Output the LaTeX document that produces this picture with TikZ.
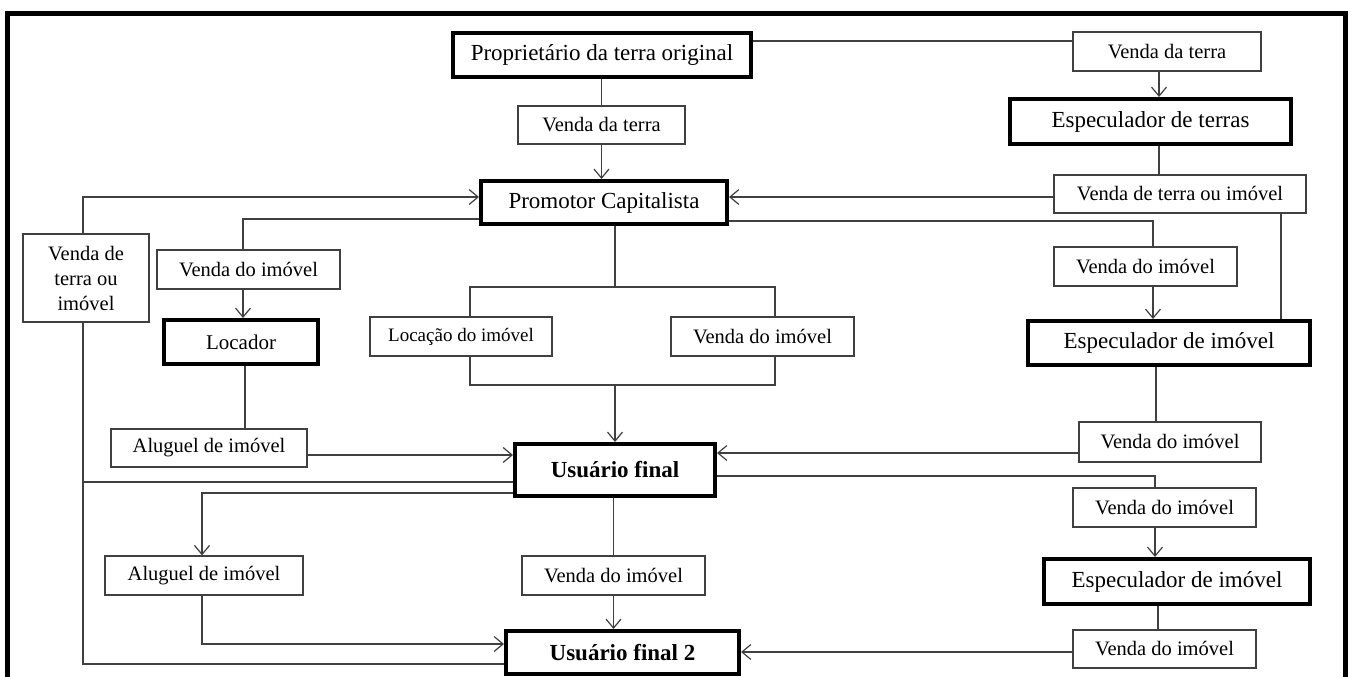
\documentclass[tikz,border=0pt]{standalone}
\usepackage{fontspec}
\setmainfont{Liberation Serif}
\usetikzlibrary{arrows.meta}
\tikzset{
  thin box/.style={draw=black!75, line width=1.3pt, fill=white, inner sep=0pt, align=center,
    font=\fontsize{20.5}{25}\selectfont},
  thick box/.style={draw=black, line width=4pt, fill=white, inner sep=0pt, align=center,
    font=\fontsize{23}{27}\selectfont},
  conn/.style={draw=black!75, line width=1.2pt},
  arr/.style={conn, -{Straight Barb[length=9pt,width=15pt,line width=1.2pt]}},
}
\begin{document}
\begin{tikzpicture}[x=1pt,y=-1pt]
\useasboundingbox (0,0) rectangle (1354,677);
\fill[white] (0,0) rectangle (1354,677);
% frame
\draw[line width=5pt] (7.5,680) -- (7.5,14) -- (1345,14) -- (1345,680);

% nodes
\node[thick box, minimum width=298, minimum height=44] (prop) at (602,55) {Proprietário da terra original};
\node[thin box, minimum width=167, minimum height=38] (vt1) at (601.5,125) {Venda da terra};
\node[thick box, minimum width=246, minimum height=43] (prom) at (604,202.5) {Promotor Capitalista};
\node[thin box, minimum width=188, minimum height=39] (vt2) at (1167,51.5) {Venda da terra};
\node[thick box, minimum width=281, minimum height=45] (espt) at (1150.5,121.5) {Especulador de terras};
\node[thin box, minimum width=252, minimum height=38] (vtoi) at (1180,194) {Venda de terra ou imóvel};
\node[thin box, minimum width=126, minimum height=88] (vtoiL) at (86,278) {Venda de\\terra ou\\imóvel};
\node[thin box, minimum width=183, minimum height=39] (vdiL) at (248.5,269.5) {Venda do imóvel};
\node[thick box, minimum width=154, minimum height=44, font=\fontsize{21}{25}\selectfont] (loc) at (241,342) {Locador};
\node[thin box, minimum width=182, minimum height=39, font=\fontsize{19}{23}\selectfont] (loci) at (461,336.5) {Locação do imóvel};
\node[thin box, minimum width=183, minimum height=39] (vdiM) at (762.5,336.5) {Venda do imóvel};
\node[thick box, minimum width=200, minimum height=52, font=\fontsize{23}{27}\selectfont\bfseries] (uf1) at (615,470) {Usuário final};
\node[thin box, minimum width=196, minimum height=38] (alu1) at (209,448) {Aluguel de imóvel};
\node[thick box, minimum width=282, minimum height=44] (espi1) at (1169,343) {Especulador de imóvel};
\node[thin box, minimum width=183, minimum height=39] (vdiR1) at (1145.5,266.5) {Venda do imóvel};
\node[thin box, minimum width=182, minimum height=40] (vdiR2) at (1170,442) {Venda do imóvel};
\node[thin box, minimum width=183, minimum height=39] (vdiR3) at (1164.5,507.5) {Venda do imóvel};
\node[thick box, minimum width=266, minimum height=45] (espi2) at (1177,581.5) {Especulador de imóvel};
\node[thin box, minimum width=183, minimum height=38] (vdiR4) at (1164.5,649) {Venda do imóvel};
\node[thick box, minimum width=233, minimum height=43, font=\fontsize{23}{27}\selectfont\bfseries] (uf2) at (622.5,652.5) {Usuário final 2};
\node[thin box, minimum width=183, minimum height=39] (vdiM2) at (613.5,575.5) {Venda do imóvel};
\node[thin box, minimum width=198, minimum height=39] (alu2) at (204,575.5) {Aluguel de imóvel};

% helper coordinates
\coordinate (brT) at (615,287);
\coordinate (brB) at (615,385);
\coordinate (cR1) at (1153,221);
\coordinate (cR3) at (1155,476);
\coordinate (cL1) at (243,219);
\coordinate (cLtop) at (83,197);
\coordinate (cLmid) at (83,482);
\coordinate (cLbot) at (83,664);
\coordinate (cA2) at (202,493);
\coordinate (cA2b) at (202,644);

% top
\draw[conn] (prop.south -| vt1.north) -- (vt1.north);
\draw[arr] (vt1.south) -- (vt1.south |- prom.north);
\draw[conn] (prop.east |- 0,41) -- (vt2.west |- 0,41);
\draw[arr] (vt2.south -| 1159,0) -- (espt.north -| 1159,0);
\draw[conn] (espt.south -| 1159,0) -- (vtoi.north -| 1159,0);
\draw[arr] (vtoi.west |- 0,197) -- (prom.east |- 0,197);
\draw[conn] (vtoi.south -| 1281,0) -- (espi1.north -| 1281,0);
% right branch
\draw[conn] (prom.east |- cR1) -- (cR1) -- (vdiR1.north -| cR1);
\draw[arr] (vdiR1.south -| cR1) -- (espi1.north -| cR1);
\draw[conn] (espi1.south -| 1156,0) -- (vdiR2.north -| 1156,0);
\draw[arr] (vdiR2.west |- 0,453) -- (uf1.east |- 0,453);
\draw[conn] (uf1.east |- cR3) -- (cR3) -- (vdiR3.north -| cR3);
\draw[arr] (vdiR3.south -| cR3) -- (espi2.north -| cR3);
\draw[conn] (espi2.south -| 1158,0) -- (vdiR4.north -| 1158,0);
\draw[arr] (vdiR4.west |- 0,652) -- (uf2.east |- 0,652);
% middle bracket
\draw[conn] (prom.south -| brT) -- (brT);
\draw[conn] (loci.north -| 470,0) -- (470,287) -- (775,287) -- (vdiM.north -| 775,0);
\draw[conn] (loci.south -| 470,0) -- (470,385) -- (775,385) -- (vdiM.south -| 775,0);
\draw[arr] (brB) -- (uf1.north -| brB);
% left branch
\draw[conn] (prom.west |- cL1) -- (cL1) -- (vdiL.north -| cL1);
\draw[arr] (vdiL.south -| cL1) -- (loc.north -| cL1);
\draw[conn] (loc.south -| 245,0) -- (alu1.north -| 245,0);
\draw[arr] (alu1.east |- 0,455) -- (uf1.west |- 0,455);
% left loop
\draw[arr] (vtoiL.north -| cLtop) -- (cLtop) -- (prom.west |- cLtop);
\draw[conn] (vtoiL.south -| cLtop) -- (cLbot) -- (uf2.west |- cLbot);
\draw[conn] (cLmid) -- (uf1.west |- cLmid);
% lower left
\draw[arr] (uf1.west |- cA2) -- (cA2) -- (alu2.north -| cA2);
\draw[arr] (alu2.south -| cA2b) -- (cA2b) -- (uf2.west |- cA2b);
% bottom middle
\draw[conn] (uf1.south -| vdiM2.north) -- (vdiM2.north);
\draw[arr] (vdiM2.south) -- (vdiM2.south |- uf2.north);
\end{tikzpicture}
\end{document}
